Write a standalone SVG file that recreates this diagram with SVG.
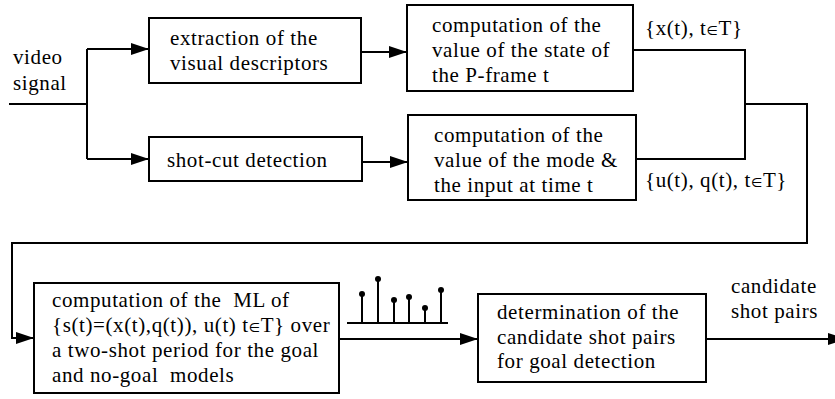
<svg xmlns="http://www.w3.org/2000/svg" width="835" height="399" viewBox="0 0 835 399">
  <defs>
    <marker id="arrow" markerUnits="userSpaceOnUse" markerWidth="18" markerHeight="12" refX="18" refY="6" orient="auto">
      <path d="M0,0 L18,6 L0,12 z" fill="#000"/>
    </marker>
  </defs>
  <style>
    .box { fill: #fff; stroke: #000; stroke-width: 2; }
    .wire { fill: none; stroke: #000; stroke-width: 2; }
    .arr { fill: none; stroke: #000; stroke-width: 2; marker-end: url(#arrow); }
    text { font-family: "Liberation Serif", "Times New Roman", serif; font-size: 21px; letter-spacing: 0.6px; fill: #000; white-space: pre; }
    .in { font-family: "DejaVu Sans", sans-serif; font-size: 13px; font-weight: normal; }
  </style>
  <rect width="835" height="399" fill="#fff"/>

  <!-- connectors -->
  <g id="connectors">
    <path class="wire" d="M9,104 H87 M87,49 V159"/>
    <path class="arr" d="M87,49 H149"/>
    <path class="arr" d="M87,159 H149"/>
    <path class="arr" d="M361,52 H407"/>
    <path class="arr" d="M362,162 H408"/>
    <path class="wire" d="M633,50 H745 V159 H636"/>
    <path class="arr" d="M745,104 H807 V243 H12 V338 H34"/>
    <path class="arr" d="M339,339 H478"/>
    <path class="arr" d="M706,339 H846"/>
  </g>

  <!-- input label -->
  <g id="input">
    <text x="13" y="64">video</text>
    <text x="13" y="90">signal</text>
  </g>

  <g id="extraction">
    <rect class="box" x="149" y="18" width="212" height="65"/>
    <text x="170" y="45">extraction of the</text>
    <text x="170" y="70">visual descriptors</text>
  </g>

  <g id="shotcut">
    <rect class="box" x="149" y="137" width="213" height="44"/>
    <text x="167" y="167">shot-cut detection</text>
  </g>

  <g id="state">
    <rect class="box" x="407" y="5" width="226" height="86"/>
    <text x="432" y="32">computation of the</text>
    <text x="432" y="57">value of the state of</text>
    <text x="432" y="82">the P-frame t</text>
  </g>

  <g id="mode">
    <rect class="box" x="408" y="115" width="228" height="85"/>
    <text x="434" y="142">computation of the</text>
    <text x="434" y="167">value of the mode &amp;</text>
    <text x="434" y="192">the input at time t</text>
  </g>

  <g id="labels">
    <text x="645" y="35">{x(t), t<tspan class="in">∈</tspan>T}</text>
    <text x="645" y="187">{u(t), q(t), t<tspan class="in">∈</tspan>T}</text>
  </g>

  <g id="likelihood">
    <rect class="box" x="34" y="283" width="305" height="110"/>
    <text x="52" y="307">computation of the  ML of</text>
    <text x="52" y="332">{s(t)=(x(t),q(t)), u(t) t<tspan class="in">∈</tspan>T} over</text>
    <text x="52" y="357">a two-shot period for the goal</text>
    <text x="52" y="382">and no-goal  models</text>
  </g>

  <!-- stem plot on the likelihood output -->
  <g id="stems" stroke="#000" stroke-width="2" fill="#000">
    <path d="M347,323 H448 M362,323 V294 M378,323 V279 M394,323 V300 M409,323 V297 M425,323 V308 M441,323 V290" fill="none"/>
    <circle cx="362" cy="294" r="3" stroke="none"/>
    <circle cx="378" cy="279" r="3" stroke="none"/>
    <circle cx="394" cy="300" r="3" stroke="none"/>
    <circle cx="409" cy="297" r="3" stroke="none"/>
    <circle cx="425" cy="308" r="3" stroke="none"/>
    <circle cx="441" cy="290" r="3" stroke="none"/>
  </g>

  <g id="determination">
    <rect class="box" x="478" y="294" width="228" height="88"/>
    <text x="497" y="319">determination of the</text>
    <text x="497" y="344">candidate shot pairs</text>
    <text x="497" y="368">for goal detection</text>
  </g>

  <g id="output">
    <text x="731" y="293">candidate</text>
    <text x="731" y="318">shot pairs</text>
  </g>
</svg>
